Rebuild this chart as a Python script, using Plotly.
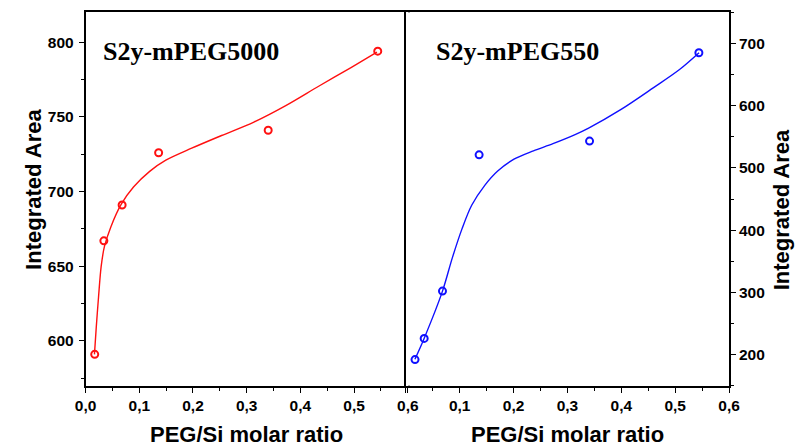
import plotly.graph_objects as go

# Measured points: PEG/Si molar ratio vs integrated area
ratio_5000 = [0.017, 0.034, 0.068, 0.136, 0.340, 0.544]
area_5000 = [591, 667, 691, 726, 741, 794]

ratio_550 = [0.017, 0.034, 0.068, 0.136, 0.341, 0.544]
area_550 = [192, 226, 302, 521, 543, 685]

# Fitted guide curves (sampled along the fit)
fit_x_5000 = [0.0165, 0.0199, 0.0241, 0.0289, 0.0349, 0.047, 0.0662, 0.0892, 0.1193,
              0.1494, 0.1976, 0.2532, 0.3134, 0.3736, 0.434, 0.4942, 0.5425]
fit_y_5000 = [591, 609.4, 629.4, 649.5, 662.9, 676.3, 691.4, 703, 713.5,
              721, 729, 737.5, 746.5, 757.7, 770.5, 783, 793.3]

fit_x_550 = [0.0168, 0.0337, 0.068, 0.0861, 0.1042, 0.1222, 0.1465, 0.1705, 0.2007,
             0.2369, 0.2731, 0.3152, 0.3393, 0.3996, 0.4599, 0.5081, 0.5443]
fit_y_550 = [192.5, 225.6, 302, 355, 402, 440, 472, 495, 514,
             527.4, 539, 554, 564, 594, 629, 658, 685]

# Tick values / labels
x_ticks_left = [0.0, 0.1, 0.2, 0.3, 0.4, 0.5, 0.6]
x_labels_left = ["0,0", "0,1", "0,2", "0,3", "0,4", "0,5", "0,6"]
x_ticks_right = [0.0, 0.1, 0.2, 0.3, 0.4, 0.5, 0.6]
x_labels_right = ["", "0,1", "0,2", "0,3", "0,4", "0,5", "0,6"]
y_ticks_left = [600, 650, 700, 750, 800]
y_ticks_right = [200, 300, 400, 500, 600, 700]

RED = "#ff1010"
BLUE = "#1010ff"
W, H = 802, 446

fig = go.Figure()

fig.add_trace(go.Scatter(x=fit_x_5000, y=fit_y_5000, mode="lines",
                         line=dict(color=RED, width=1.4, shape="spline", smoothing=0.9),
                         xaxis="x", yaxis="y", showlegend=False, hoverinfo="skip"))
fig.add_trace(go.Scatter(x=ratio_5000, y=area_5000, mode="markers",
                         marker=dict(symbol="circle-open", size=7, color=RED,
                                     line=dict(width=2, color=RED)),
                         xaxis="x", yaxis="y", showlegend=False))

fig.add_trace(go.Scatter(x=fit_x_550, y=fit_y_550, mode="lines",
                         line=dict(color=BLUE, width=1.4, shape="spline", smoothing=0.9),
                         xaxis="x2", yaxis="y2", showlegend=False, hoverinfo="skip"))
fig.add_trace(go.Scatter(x=ratio_550, y=area_550, mode="markers",
                         marker=dict(symbol="circle-open", size=7, color=BLUE,
                                     line=dict(width=2, color=BLUE)),
                         xaxis="x2", yaxis="y2", showlegend=False))

tick_font = dict(family="Liberation Sans, Arial, sans-serif", size=15.5, color="black", weight="bold")
title_font = dict(family="Liberation Sans, Arial, sans-serif", size=22, color="black", weight="bold")
label_font = dict(family="Liberation Serif, Times New Roman, serif", size=26, color="black", weight="bold")

y_dom = [1 - 385.7 / H, 1 - 12.3 / H]

axis_common = dict(showline=True, linecolor="black", linewidth=1.6, mirror=True,
                   ticks="outside", ticklen=5, tickwidth=1.4, tickcolor="black",
                   showgrid=False, zeroline=False, tickfont=tick_font)

fig.update_layout(
    width=W, height=H,
    margin=dict(l=0, r=0, t=0, b=0),
    paper_bgcolor="white", plot_bgcolor="white",
    xaxis=dict(domain=[76.7 / W, 408 / W], range=[0, 0.6], anchor="y",
               tickvals=x_ticks_left, ticktext=x_labels_left,
               minor=dict(dtick=0.05, ticks="outside", ticklen=3, tickwidth=1.2, tickcolor="black"),
               **axis_common),
    yaxis=dict(domain=y_dom, range=[570, 820], anchor="x",
               tickvals=y_ticks_left, ticklabelstandoff=2,
               minor=dict(dtick=25, ticks="outside", ticklen=3, tickwidth=1.2, tickcolor="black"),
               **axis_common),
    xaxis2=dict(domain=[406 / W, 738.3 / W], range=[0, 0.6], anchor="y2",
                tickvals=x_ticks_right, ticktext=x_labels_right,
                minor=dict(dtick=0.05, ticks="outside", ticklen=3, tickwidth=1.2, tickcolor="black"),
                **axis_common),
    yaxis2=dict(domain=y_dom, range=[150, 750], anchor="x2", side="right",
                tickvals=y_ticks_right,
                minor=dict(dtick=50, ticks="outside", ticklen=3, tickwidth=1.2, tickcolor="black"),
                **axis_common),
    annotations=[
        dict(text="S2y-mPEG5000", xref="paper", yref="paper", x=93 / W, y=1 - 51 / H,
             xanchor="left", yanchor="middle", showarrow=False, font=label_font),
        dict(text="S2y-mPEG550", xref="paper", yref="paper", x=435 / W, y=1 - 51 / H,
             xanchor="left", yanchor="middle", showarrow=False, font=label_font),
        dict(text="PEG/Si molar ratio", xref="paper", yref="paper", x=242 / W, y=1 - 434 / H,
             xanchor="center", yanchor="middle", showarrow=False, font=title_font),
        dict(text="PEG/Si molar ratio", xref="paper", yref="paper", x=572 / W, y=1 - 434 / H,
             xanchor="center", yanchor="middle", showarrow=False, font=title_font),
        dict(text="Integrated Area", xref="paper", yref="paper", x=22.5 / W, y=1 - 189 / H,
             xanchor="center", yanchor="middle", textangle=-90, showarrow=False, font=title_font),
        dict(text="Integrated Area", xref="paper", yref="paper", x=792 / W, y=1 - 210 / H,
             xanchor="center", yanchor="middle", textangle=-90, showarrow=False, font=title_font),
    ],
)

fig.write_html("out.html")
